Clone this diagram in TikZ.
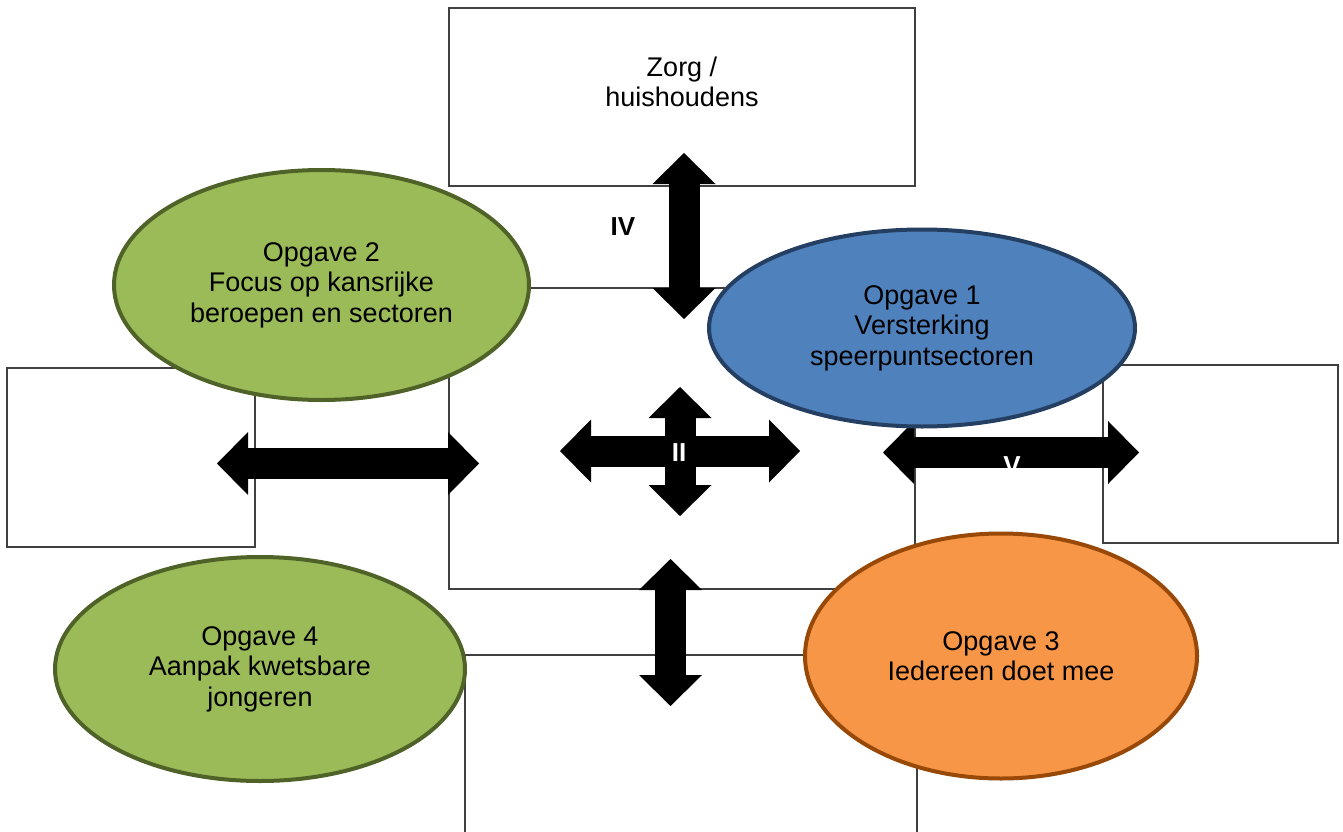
\documentclass[tikz,border=0pt]{standalone}
\usepackage{fontspec}
\setmainfont{Liberation Sans}
\usepackage{tikz}
\usetikzlibrary{arrows.meta,shapes.geometric}

\definecolor{opggreen}{HTML}{9BBB59}
\definecolor{opggreenline}{HTML}{4F6228}
\definecolor{opgblue}{HTML}{4F81BD}
\definecolor{opgblueline}{HTML}{253F62}
\definecolor{opgorange}{HTML}{F79646}
\definecolor{opgorangeline}{HTML}{984807}
\definecolor{boxline}{HTML}{404040}

\tikzset{
	box/.style={draw=boxline, line width=1.5pt, inner sep=0pt},
	opgave/.style={ellipse, line width=4pt, inner sep=0pt, align=center},
	blockarr/.style={line width=31pt,
		{Triangle[length=31pt,width=63pt,line width=0pt]}-{Triangle[length=31pt,width=63pt,line width=0pt]}},
	roman/.style={font=\fontsize{26}{30}\selectfont\bfseries}
}

\begin{document}
\begin{tikzpicture}[x=1pt,y=-1pt,font=\fontsize{27}{30.5}\selectfont]
	\useasboundingbox (0,0) rectangle (1343,832);

	% kaders
	\node[box, minimum width=466, minimum height=178] (zorg)   at (682,97)     {};
	\node[align=center]                                (zorgtxt) at (682,82)   {Zorg /\\huishoudens};
	\node[box, minimum width=466, minimum height=301] (midden) at (682,438.5)  {};
	\node[box, minimum width=248, minimum height=179] (links)  at (131,457.5)  {};
	\node[box, minimum width=235, minimum height=178] (rechts) at (1220.5,454) {};
	\node[box, minimum width=452, minimum height=200] (onder)  at (691,755)    {};

	% pijlen
	\coordinate (ivA)  at (684,153);   \coordinate (ivB)  at (684,319);
	\coordinate (iA)   at (217,463.5); \coordinate (iB)   at (479,463.5);
	\coordinate (iiL)  at (560,451);   \coordinate (iiR)  at (800,451);
	\coordinate (iiT)  at (680,387);   \coordinate (iiD)  at (680,516);
	\coordinate (vA)   at (883,452.5); \coordinate (vB)   at (1139,452.5);
	\coordinate (iiiA) at (670.5,559); \coordinate (iiiB) at (670.5,706);

	\draw[blockarr] (ivA) -- (ivB);
	\draw[blockarr] (iA) -- (iB);
	\draw[blockarr] (iiL) -- (iiR);
	\draw[blockarr] (iiT) -- (iiD);
	\draw[blockarr] (vA) -- (vB);
	\draw[blockarr] (iiiA) -- (iiiB);

	% opgaven
	\node[opgave, fill=opggreen,  draw=opggreenline,  minimum width=415, minimum height=230] (opg2) at (321.5,285)
		{Opgave 2\\Focus op kansrijke\\beroepen en sectoren};
	\node[opgave, fill=opgblue,   draw=opgblueline,   minimum width=426, minimum height=197] (opg1) at (922,328)
		{Opgave 1\\Versterking\\speerpuntsectoren};
	\node[opgave, fill=opggreen,  draw=opggreenline,  minimum width=410, minimum height=224] (opg4) at (260,669)
		{Opgave 4\\Aanpak kwetsbare\\jongeren};
	\node[opgave, fill=opgorange, draw=opgorangeline, minimum width=392, minimum height=245] (opg3) at (1001,656)
		{Opgave 3\\Iedereen doet mee};

	\node[roman]             (lblIV) at (623,227)  {IV};
	\node[roman, text=white] (lblII) at (679,453)  {II};
	\node[roman, text=white] (lblV)  at (1012,466) {V};
\end{tikzpicture}
\end{document}
